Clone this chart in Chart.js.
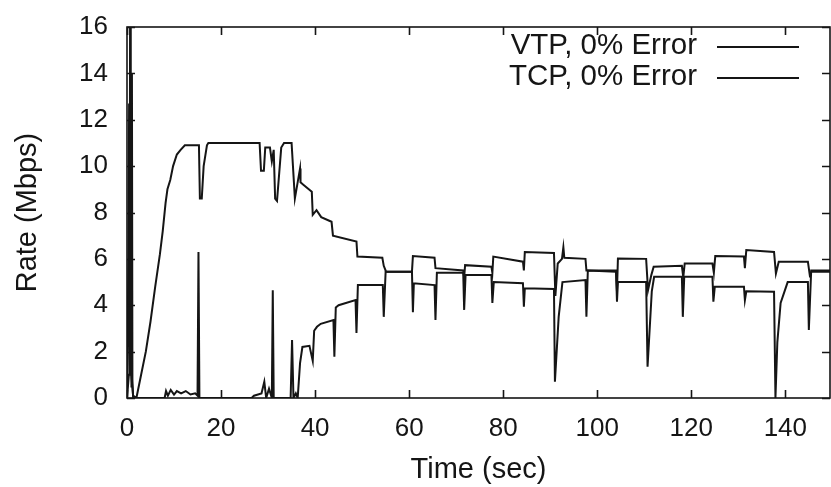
<!DOCTYPE html>
<html>
<head>
<meta charset="utf-8">
<title>Rate vs Time</title>
<script src="https://cdn.jsdelivr.net/npm/chart.js@4/dist/chart.umd.min.js"></script>
<style>
  html, body { margin: 0; padding: 0; background: #fff; }
  #wrap { width: 831px; height: 487px; }
</style>
</head>
<body>
<div id="wrap"><canvas id="rateChart" width="831" height="487"></canvas></div>
<script>
const seriesNames = ["VTP, 0% Error", "TCP, 0% Error"];

const vtpTime = [0, 0.4, 0.9, 1.3, 2.0, 3.0, 4.0, 5.0, 6.0, 7.0, 7.6, 8.2, 8.6, 9.2, 9.8, 10.6, 11.4, 12.3,
  15.3, 15.5, 15.9, 16.3, 17.0, 17.3, 28.2, 28.5, 29.1, 29.4, 30.4, 30.8, 31.2, 31.5, 31.9, 32.8, 33.4,
  35.0, 35.7, 36.8, 36.9, 37.5, 39.3, 39.5, 40.3, 41.3, 43.5, 43.8, 48.8, 49.0, 54.3, 54.6, 55.1,
  60.6, 60.8, 65.4, 65.6, 71.5, 71.7, 71.9, 77.5, 77.7, 77.9, 84.2, 84.4, 84.6, 90.8, 91.1, 91.6, 92.5,
  92.8, 93.0, 97.5, 97.7, 104.0, 104.2, 104.4, 110.4, 110.8, 111.5, 112.0, 118.0, 118.3, 118.6,
  124.5, 124.8, 125.1, 131.2, 131.4, 131.7, 137.6, 138.0, 138.6, 144.8, 145.2, 145.6, 150];
const vtpRate = [0, 1.0, 1.0, 0.1, 0, 1.0, 2.0, 3.3, 4.8, 6.2, 7.2, 8.4, 9.0, 9.4, 10.0, 10.5, 10.7, 10.9,
  10.9, 8.6, 8.6, 10.0, 10.9, 11.0, 11.0, 9.8, 9.8, 10.8, 10.8, 10.2, 10.7, 8.6, 8.5, 10.8, 11.0,
  11.0, 8.6, 9.9, 9.3, 9.2, 8.9, 7.9, 8.1, 7.8, 7.6, 7.0, 6.75, 6.1, 6.05, 5.7, 5.45,
  5.45, 6.12, 6.05, 5.6, 5.5, 5.2, 5.73, 5.66, 5.4, 6.1, 5.88, 5.5, 6.3, 6.25, 4.4, 5.8, 6.0,
  6.5, 6.05, 6.0, 5.5, 5.5, 4.6, 6.02, 6.0, 4.65, 5.3, 5.66, 5.7, 5.2, 5.8,
  5.8, 5.4, 6.12, 6.1, 5.6, 6.38, 6.3, 5.37, 5.88, 5.88, 5.3, 5.45, 5.45];

const tcpTime = [0, 0.3, 0.45, 0.55, 0.65, 0.75, 0.85, 0.95, 1.05, 1.15, 1.3, 8.0, 8.3, 8.7, 9.3, 10.0,
  10.6, 11.5, 12.5, 13.5, 14.5, 15.0, 15.2, 15.4, 26.5, 27.0, 28.6, 29.2, 29.6, 30.2, 30.8, 31.0,
  31.2, 34.8, 35.1, 35.4, 35.9, 36.3, 36.8, 37.3, 38.8, 39.5, 39.8, 40.4, 41.2, 43.9, 44.1, 44.4,
  45.0, 48.6, 48.8, 49.1, 54.4, 54.6, 55.0, 60.6, 60.8, 61.0, 65.4, 65.6, 65.9, 71.5, 71.7, 72.0,
  77.5, 77.7, 78.0, 84.2, 84.4, 84.6, 90.8, 91.0, 91.8, 92.6, 97.5, 97.7, 98.0, 104.0, 104.2, 104.4,
  110.4, 110.7, 111.6, 112.1, 118.0, 118.2, 118.5, 124.5, 124.7, 125.0, 131.2, 131.4, 131.7, 137.6,
  137.9, 138.3, 139.0, 140.5, 144.8, 145.0, 145.5, 150];
const tcpRate = [0, 6.0, 12.7, 1.0, 16.0, 3.0, 12.5, 0.5, 14.0, 0.8, 0, 0, 0.3, 0.1, 0.35, 0.15,
  0.3, 0.2, 0.3, 0.15, 0.2, 0.1, 6.3, 0, 0, 0.1, 0.2, 0.7, 0, 0.4, 0, 4.65,
  0, 0, 2.5, 0, 0.2, 0, 1.5, 2.2, 2.25, 1.6, 2.9, 3.07, 3.2, 3.36, 1.78, 3.9,
  4.0, 4.22, 2.8, 4.87, 4.87, 3.5, 5.45, 5.45, 3.7, 4.95, 4.87, 3.36, 5.4, 5.4, 3.8, 5.3,
  5.3, 4.1, 5.0, 4.95, 3.94, 4.73, 4.7, 0.7, 3.5, 5.0, 5.09, 3.5, 5.5, 5.45, 4.15, 5.0,
  5.0, 1.35, 4.6, 5.23, 5.23, 3.5, 5.23, 5.23, 4.15, 4.8, 4.8, 4.22, 4.6, 4.58,
  0, 2.4, 4.1, 5.0, 5.0, 2.93, 5.5, 5.5];

const xTicks = { min: 0, max: 149.5, step: 20 };
const yTicks = { min: 0, max: 16, step: 2 };

const FONT = "'Liberation Sans', Arial, sans-serif";
const INK = "#151515";

function toPoints(times, rates) {
  return times.map((t, i) => ({ x: t, y: rates[i] }));
}

// frame, inward tick marks on all four sides, and the gnuplot-style key
const frameAndKey = {
  id: "frameAndKey",
  afterDatasetsDraw(chart) {
    const { ctx, chartArea: a, scales: { x, y } } = chart;
    ctx.save();
    ctx.strokeStyle = INK;
    ctx.lineWidth = 1.6;
    ctx.strokeRect(a.left, a.top, a.right - a.left, a.bottom - a.top);

    ctx.beginPath();
    x.ticks.forEach(t => {
      const px = Math.round(x.getPixelForValue(t.value)) + 0.5;
      ctx.moveTo(px, a.bottom); ctx.lineTo(px, a.bottom - 8);
      ctx.moveTo(px, a.top); ctx.lineTo(px, a.top + 8);
    });
    y.ticks.forEach(t => {
      const py = Math.round(y.getPixelForValue(t.value)) + 0.5;
      ctx.moveTo(a.left, py); ctx.lineTo(a.left + 8, py);
      ctx.moveTo(a.right, py); ctx.lineTo(a.right - 8, py);
    });
    ctx.stroke();

    ctx.font = "29.5px " + FONT;
    ctx.fillStyle = INK;
    ctx.textAlign = "right";
    ctx.textBaseline = "middle";
    ctx.lineWidth = 2;
    seriesNames.forEach((name, i) => {
      const ly = 46 + i * 31;
      ctx.fillText(name, 697, ly);
      ctx.beginPath();
      ctx.moveTo(717, ly + 1);
      ctx.lineTo(799, ly + 1);
      ctx.stroke();
    });
    ctx.restore();
  }
};

function init() {
  const ctx = document.getElementById("rateChart");
  new Chart(ctx, {
    type: "line",
    data: {
      datasets: [
        {
          label: seriesNames[0],
          data: toPoints(vtpTime, vtpRate),
          borderColor: INK,
          borderWidth: 2,
          pointRadius: 0,
          tension: 0,
          fill: false
        },
        {
          label: seriesNames[1],
          data: toPoints(tcpTime, tcpRate),
          borderColor: INK,
          borderWidth: 2,
          pointRadius: 0,
          tension: 0,
          fill: false
        }
      ]
    },
    options: {
      responsive: false,
      animation: false,
      parsing: false,
      layout: { padding: { top: 27, right: 1, left: 0, bottom: 0 } },
      plugins: { legend: { display: false }, tooltip: { enabled: false } },
      scales: {
        x: {
          type: "linear",
          min: xTicks.min,
          max: xTicks.max,
          grid: { display: false, drawTicks: false },
          border: { display: false },
          ticks: {
            stepSize: xTicks.step,
            includeBounds: false,
            padding: 15,
            color: INK,
            font: { family: FONT, size: 26 }
          },
          title: {
            display: true,
            text: "Time (sec)",
            color: INK,
            font: { family: FONT, size: 29 },
            padding: { top: 0, bottom: 0 }
          },
          afterFit(scale) {
            scale.height = 89;
            scale.paddingLeft = 0;
            scale.paddingRight = 0;
          }
        },
        y: {
          min: yTicks.min,
          max: yTicks.max,
          grid: { display: false, drawTicks: false },
          border: { display: false },
          ticks: {
            stepSize: yTicks.step,
            padding: 19,
            color: INK,
            font: { family: FONT, size: 26 }
          },
          title: {
            display: true,
            text: "Rate (Mbps)",
            color: INK,
            font: { family: FONT, size: 29 },
            padding: { top: 11, bottom: 0 }
          },
          afterFit(scale) {
            scale.width = 127;
            scale.paddingTop = 0;
            scale.paddingBottom = 0;
          }
        }
      }
    },
    plugins: [frameAndKey]
  });
}

document.addEventListener("DOMContentLoaded", init);
</script>
</body>
</html>
